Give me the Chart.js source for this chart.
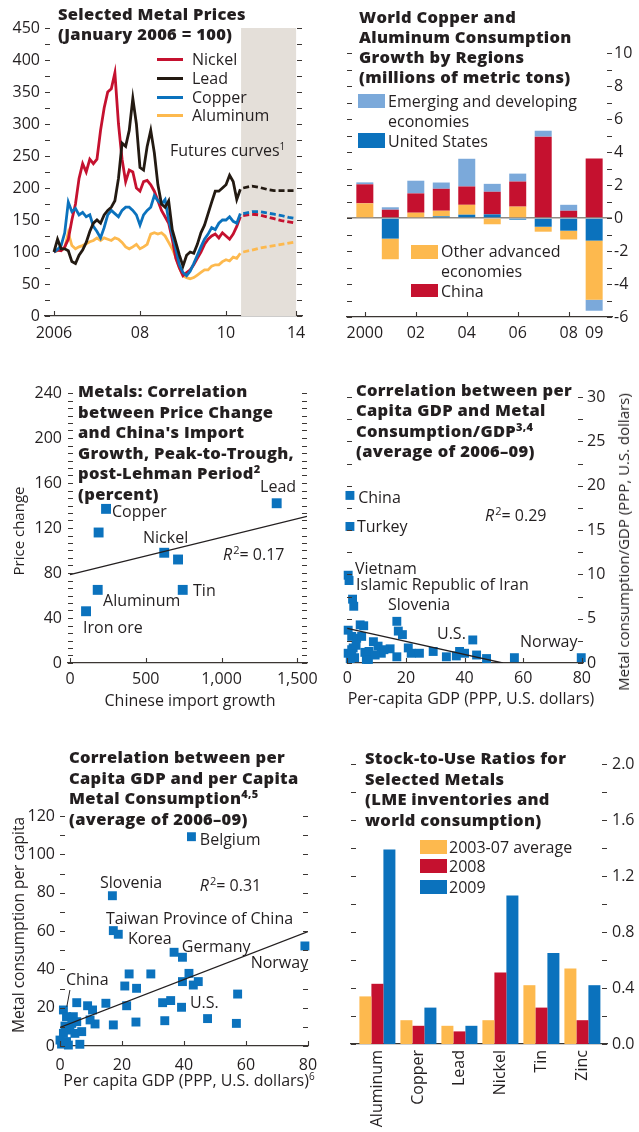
<!DOCTYPE html>
<html>
<head>
<meta charset="utf-8">
<script src="https://cdn.jsdelivr.net/npm/chart.js@4.4.0/dist/chart.umd.min.js"></script>
<style>
  html, body { margin: 0; padding: 0; background: #fff; }
  #page { position: relative; width: 639px; height: 1132px; overflow: hidden;
          font-family: "Open Sans", sans-serif; font-size: 16px; color: #231f20; }
  #page canvas { position: absolute; z-index: 1; }
  .t { position: absolute; z-index: 2; font-family: "Open Sans", sans-serif; font-weight: 800;
       font-size: 16.5px; line-height: 20.5px; white-space: nowrap; letter-spacing: 0.3px; }
  .t sup { font-size: 11px; line-height: 0; vertical-align: 6px; }
  .x { position: absolute; z-index: 2; white-space: nowrap; line-height: 20px; }
  .x sup { font-size: 10px; line-height: 0; vertical-align: 6px; }
  .c { transform: translate(-50%, -50%); }
  .r { transform: translate(-50%, -50%) rotate(-90deg); }
  .sw { position: absolute; z-index: 2; }
</style>
</head>
<body>
<div id="page">
  <canvas id="c1" width="320" height="340" style="left:0;top:0"></canvas>
  <canvas id="c2" width="319" height="340" style="left:320px;top:0"></canvas>
  <canvas id="c3" width="320" height="380" style="left:0;top:340px"></canvas>
  <canvas id="c4" width="319" height="380" style="left:320px;top:340px"></canvas>
  <canvas id="c5" width="320" height="392" style="left:0;top:740px"></canvas>
  <canvas id="c6" width="319" height="392" style="left:320px;top:740px"></canvas>

  <!-- titles -->
  <div class="t" style="left:58px;top:4px;line-height:19.5px">Selected Metal Prices<br>(January 2006 = 100)</div>
  <div class="t" style="left:359px;top:7px;line-height:20px">World Copper and<br>Aluminum Consumption<br>Growth by Regions<br>(millions of metric tons)</div>
  <div class="t" style="left:78px;top:381px;line-height:20.6px">Metals: Correlation<br>between Price Change<br>and China's Import<br>Growth, Peak-to-Trough,<br>post-Lehman Period<sup>2</sup><br>(percent)</div>
  <div class="t" style="left:356px;top:380px;line-height:20.3px">Correlation between per<br>Capita GDP and Metal<br>Consumption/GDP<sup>3,4</sup><br>(average of 2006–09)</div>
  <div class="t" style="left:69px;top:747px;line-height:20.5px">Correlation between per<br>Capita GDP and per Capita<br>Metal Consumption<sup>4,5</sup><br>(average of 2006–09)</div>
  <div class="t" style="left:365px;top:748px;line-height:20.7px">Stock-to-Use Ratios for<br>Selected Metals<br>(LME inventories and<br>world consumption)</div>

  <!-- panel 1 legend -->
  <div class="sw" style="left:157px;top:58px;width:26px;height:3px;background:#c5112f"></div>
  <div class="x" style="left:192px;top:49px">Nickel</div>
  <div class="sw" style="left:157px;top:77px;width:26px;height:3px;background:#231a12"></div>
  <div class="x" style="left:192px;top:68px">Lead</div>
  <div class="sw" style="left:157px;top:96px;width:26px;height:3px;background:#0b72bd"></div>
  <div class="x" style="left:192px;top:87px">Copper</div>
  <div class="sw" style="left:157px;top:114px;width:26px;height:3px;background:#fdb94e"></div>
  <div class="x" style="left:192px;top:105px">Aluminum</div>
  <div class="x" style="left:170px;top:140px">Futures curves<sup>1</sup></div>

  <!-- panel 2 legend -->
  <div class="sw" style="left:358px;top:94px;width:27px;height:14px;background:#7ba9da"></div>
  <div class="x" style="left:388px;top:91px">Emerging and developing<br>economies</div>
  <div class="sw" style="left:358px;top:133px;width:27px;height:15px;background:#0b72bd"></div>
  <div class="x" style="left:388px;top:131px">United States</div>
  <div class="sw" style="left:411px;top:245px;width:27px;height:14px;background:#fdb94e"></div>
  <div class="x" style="left:441px;top:241px">Other advanced<br>economies</div>
  <div class="sw" style="left:411px;top:284px;width:27px;height:13px;background:#c5112f"></div>
  <div class="x" style="left:441px;top:281px">China</div>

  <!-- panel 6 legend -->
  <div class="sw" style="left:420px;top:840px;width:27px;height:14px;background:#fdb94e"></div>
  <div class="x" style="left:449px;top:837px">2003-07 average</div>
  <div class="sw" style="left:420px;top:859px;width:27px;height:14px;background:#c5112f"></div>
  <div class="x" style="left:449px;top:856px">2008</div>
  <div class="sw" style="left:420px;top:880px;width:27px;height:14px;background:#0b72bd"></div>
  <div class="x" style="left:449px;top:877px">2009</div>

  <!-- axis titles -->
  <div class="x r" style="left:18px;top:531px;font-size:15px">Price change</div>
  <div class="x c" style="left:190px;top:700px">Chinese import growth</div>
  <div class="x c" style="left:471px;top:698px">Per-capita GDP (PPP, U.S. dollars)</div>
  <div class="x r" style="left:623px;top:542px;font-size:15px">Metal consumption/GDP (PPP, U.S. dollars)</div>
  <div class="x r" style="left:18px;top:925px;font-size:15.5px">Metal consumption per capita</div>
  <div class="x c" style="left:189px;top:1080px">Per capita GDP (PPP, U.S. dollars)<sup>6</sup></div>
</div>

<script>
// ---------------- data ----------------

// Selected metal prices, monthly Jan 2006 .. May 2010 (January 2006 = 100)
const nickelPrice = [100, 103, 102, 108, 120, 150, 175, 215, 238, 225,
  245, 238, 245, 290, 325, 350, 355, 380, 300, 245,
  210, 228, 225, 200, 195, 210, 212, 205, 195, 180,
  165, 155, 145, 120, 90, 75, 63, 68, 72, 80,
  90, 100, 112, 120, 125, 128, 122, 130, 125, 120,
  128, 140, 155];
const leadPrice = [100, 120, 105, 105, 102, 85, 82, 95, 103, 115,
  132, 145, 150, 145, 158, 165, 170, 180, 215, 270,
  265, 290, 340, 300, 232, 228, 265, 290, 255, 205,
  175, 170, 180, 135, 115, 95, 78, 95, 100, 98,
  112, 130, 142, 160, 178, 195, 195, 200, 205, 220,
  210, 182, 198];
const copperPrice = [100, 104, 110, 130, 178, 163, 168, 158, 162, 155,
  158, 140, 132, 122, 138, 158, 165, 160, 155, 165,
  170, 170, 165, 158, 142, 158, 165, 170, 188, 180,
  175, 182, 150, 128, 105, 80, 68, 63, 70, 82,
  95, 108, 120, 128, 138, 135, 145, 150, 150, 155,
  148, 145, 160];
const aluminumPrice = [100, 102, 103, 106, 130, 110, 105, 108, 110, 113,
  116, 118, 122, 118, 122, 120, 118, 122, 120, 115,
  108, 105, 108, 112, 105, 108, 112, 128, 130, 128,
  130, 125, 115, 105, 92, 75, 63, 60, 58, 60,
  64, 68, 72, 72, 78, 80, 80, 85, 88, 86,
  92, 90, 98];
const futureYears = [2010.4, 2011, 2011.5, 2012, 2012.5, 2013, 2013.5, 2014];
const nickelFutures = [157, 159, 158, 155, 152, 149, 147, 145];
const leadFutures = [200, 203, 201, 198, 196, 196, 196, 196];
const copperFutures = [160, 163, 163, 161, 159, 157, 154, 152];
const aluminumFutures = [100, 103, 106, 108, 110, 112, 114, 116];
const priceTickYears = [2006, 2008, 2010, 2014];
const priceTickLabels = ['2006', '08', '10', '14'];

// Copper and aluminum consumption growth (millions of metric tons)
const consYears = ['2000', '01', '02', '03', '04', '05', '06', '07', '08', '09'];
const consShownYears = ['2000', '02', '04', '06', '08', '09'];
const consUS = [0, -1.25, 0, 0.1, 0.2, 0.22, -0.1, -0.53, -0.77, -1.37];
const consOtherAdv = [0.89, -1.25, 0.32, 0.34, 0.6, -0.38, 0.69, -0.3, -0.53, -3.58];
const consChina = [1.15, 0.5, 1.17, 1.33, 1.11, 1.37, 1.52, 4.93, 0.44, 3.6];
const consEmerging = [0.12, 0.15, 0.77, 0.38, 1.68, 0.48, 0.48, 0.36, 0.36, -0.67];

// Price change vs Chinese import growth (percent)
const corrImportGrowth = [238, 189, 1364, 622, 713, 744, 183, 106];
const corrPriceChange = [137, 116, 142, 98, 92, 65, 65, 46];
const corrTrendX = [0, 1564];
const corrTrendY = [78.5, 130.4];

// Per capita GDP vs metal consumption / GDP
const gdpA = [0.9, 0.9, 0.3, 0.6, 1.8, 2.2, 0.3, 1.5, 3.2, 4.4, 5.6, 4.9, 0.3, 2.0, 2.5, 1.5,
  6.0, 6.5, 7.2, 8.9, 10.5, 7.4, 11.6, 14.6, 16.9, 17.4, 18.8, 16.9, 20.8, 21.8,
  24.6, 29.3, 33.8, 37.2, 38.3, 40.0, 42.8, 44.1, 47.5, 57.0, 79.8, 3.0, 1.0, 9.5, 12.5];
const metalPerGdp = [18.9, 15.4, 9.9, 9.3, 7.2, 6.4, 3.7, 3.0, 2.8, 4.3, 4.2, 3.0, 1.1, 1.7, 0.6, 1.5,
  1.2, 0.4, 0.4, 2.4, 1.9, 1.3, 1.1, 1.6, 4.7, 3.6, 3.2, 0.7, 1.7, 1.1,
  1.1, 1.3, 0.7, 0.8, 1.3, 1.1, 2.6, 0.9, 0.5, 0.6, 0.6, 2.0, 0.5, 0.9, 1.5];
const gdpATrendX = [0, 53];
const gdpATrendY = [3.9, 0];

// Per capita GDP vs per capita metal consumption
const gdpB = [42.4, 16.9, 17.2, 18.8, 36.8, 39.5, 79.0, 22.3, 29.3, 20.9, 24.7, 41.6, 39.5, 43.0,
  44.6, 57.3, 5.4, 8.9, 10.5, 14.8, 21.5, 33.1, 35.7, 39.2, 33.8, 24.5, 17.2, 47.6,
  56.9, 11.3, 9.7, 7.0, 6.4, 1.1, 2.1, 4.3, 3.8, 1.6, 5.4, 3.2, 1.1, 0.0, 2.1, 2.7, 4.8, 0.5];
const metalPerCapita = [109.2, 78.4, 60.2, 58.3, 48.9, 46.3, 52.2, 37.6, 37.6, 31.3, 30.1, 37.9, 33.6, 31.8,
  33.6, 27.1, 22.6, 21.0, 18.8, 22.3, 21.0, 22.6, 23.7, 20.2, 13.2, 12.5, 11.0, 14.3,
  11.8, 11.5, 13.6, 7.5, 0.9, 18.8, 15.3, 15.3, 11.8, 10.4, 12.7, 8.3, 6.6, 3.1, 2.3, 0.5, 6.6, 1.0];
const gdpBTrendX = [0, 80];
const gdpBTrendY = [9.7, 59.7];

// Stock-to-use ratios
const stockMetals = ['Aluminum', 'Copper', 'Lead', 'Nickel', 'Tin', 'Zinc'];
const stockAvg0307 = [0.34, 0.17, 0.13, 0.17, 0.42, 0.54];
const stock2008 = [0.43, 0.13, 0.09, 0.51, 0.26, 0.17];
const stock2009 = [1.39, 0.26, 0.13, 1.06, 0.65, 0.42];

// point labels (data units)
const corrNotes = [
  { text: 'Copper', x: 277, y: 134 },
  { text: 'Lead', x: 1492, y: 156, align: 'right' },
  { text: 'Nickel', x: 482, y: 110.5 },
  { text: 'Tin', x: 812, y: 64 },
  { text: 'Aluminum', x: 218, y: 54.5 },
  { text: 'Iron ore', x: 86, y: 30.5 },
  { r2: '0.17', x: 1010, y: 95.4 },
];
const gdpANotes = [
  { text: 'China', x: 3.7, y: 18.6 },
  { text: 'Turkey', x: 3.3, y: 15.3 },
  { text: 'Vietnam', x: 2.6, y: 10.6 },
  { text: 'Islamic Republic of Iran', x: 3.0, y: 8.8 },
  { text: 'Slovenia', x: 13.9, y: 6.45 },
  { text: 'U.S.', x: 30.6, y: 3.2 },
  { text: 'Norway', x: 58.9, y: 2.3 },
  { r2: '0.29', x: 47, y: 16.5 },
];
const gdpBNotes = [
  { text: 'Belgium', x: 45.1, y: 107.5 },
  { text: 'Slovenia', x: 12.9, y: 85 },
  { r2: '0.31', x: 45.1, y: 83 },
  { text: 'Taiwan Province of China', x: 14.8, y: 66.2 },
  { text: 'Korea', x: 21.9, y: 55.8 },
  { text: 'Germany', x: 39.3, y: 51.6 },
  { text: 'Norway', x: 61.5, y: 43.3 },
  { text: 'China', x: 1.9, y: 34.4, lead: [3.2, 29.2, 2.2, 20.5] },
  { text: 'U.S.', x: 41.9, y: 22.4 },
];

// ---------------- styles ----------------
const INK = '#231f20';
const AXIS = '#3b3633';
const RED = '#c5112f', BLACK = '#231a12', BLUE = '#0b72bd', GOLD = '#fdb94e', LTBLUE = '#7ba9da';
const SHADE = '#e4dfd9', ZERO = '#8f8982';
const tickFont = { family: "'Open Sans', sans-serif", size: 16 };
const NOTE_FONT = "16px 'Open Sans'";

// the futures part of the price chart is squeezed on the time axis
const BREAK_YEAR = 2010.4;
function yearToX(y) {
  if (y <= BREAK_YEAR) return (y - 2006) * 12;
  return (BREAK_YEAR - 2006) * 12 + (y - BREAK_YEAR) * 4.1;
}

// ---------------- helpers ----------------
function sizeTo(n) {
  return s => {
    if (s.isHorizontal()) s.height = n; else s.width = n;
    s.paddingLeft = s.paddingRight = s.paddingTop = s.paddingBottom = 0;
  };
}
function stepTicks(min, max, step) {
  return s => {
    const n = Math.round((max - min) / step);
    s.ticks = [];
    for (let k = 0; k <= n; k++) s.ticks.push({ value: +(min + k * step).toFixed(6) });
  };
}
function listTicks(values) {
  return s => { s.ticks = values.map(v => ({ value: v })); };
}
function majorOnly(every, fmt) {
  return v => {
    const r = v / every;
    if (Math.abs(r - Math.round(r)) > 1e-6) return '';
    return fmt ? fmt(v) : v.toLocaleString('en-US');
  };
}
function noGrid() { return { display: false, drawTicks: false }; }
function pts(xs, ys) { return xs.map((x, i) => ({ x, y: ys[i] })); }

function baseOptions(padding, scales, plugins) {
  return {
    responsive: false, animation: false, events: [],
    layout: { padding },
    scales,
    plugins: Object.assign({ legend: { display: false }, tooltip: { enabled: false } }, plugins),
  };
}

// short tick marks pointing into the plot, on any side
const innerTicks = {
  id: 'innerTicks',
  afterDraw(chart, args, o) {
    const { ctx, chartArea: a } = chart;
    const len = o.len || 5;
    ctx.save();
    ctx.strokeStyle = AXIS;
    ctx.lineWidth = 1.1;
    ctx.beginPath();
    const ys = chart.scales.y;
    if (o.left || o.right) {
      ys.ticks.forEach(t => {
        const p = Math.round(ys.getPixelForValue(t.value)) + 0.5;
        if (o.left) { ctx.moveTo(a.left, p); ctx.lineTo(a.left + len, p); }
        if (o.right) { ctx.moveTo(a.right - len, p); ctx.lineTo(a.right, p); }
      });
    }
    if (o.bottom) {
      const xs = chart.scales.x;
      xs.ticks.forEach(t => {
        if (o.skip && o.skip.includes(t.value)) return;
        const p = Math.round(xs.getPixelForValue(t.value)) + 0.5;
        ctx.moveTo(p, a.bottom); ctx.lineTo(p, a.bottom - len);
      });
    }
    ctx.stroke();
    ctx.restore();
  }
};

// grey band behind the futures curves
const shadeBand = {
  id: 'shadeBand',
  beforeDatasetsDraw(chart, args, o) {
    const { ctx, chartArea: a, scales: { x } } = chart;
    const x0 = x.getPixelForValue(o.from), x1 = x.getPixelForValue(o.to);
    ctx.save();
    ctx.fillStyle = SHADE;
    ctx.fillRect(x0, a.top, x1 - x0, a.bottom - a.top);
    ctx.restore();
  }
};

function drawR2(ctx, px, py, val) {
  ctx.textAlign = 'left';
  ctx.font = "italic 16px 'Open Sans'";
  ctx.fillText('R', px, py);
  let w = ctx.measureText('R').width + 1;
  ctx.font = "11px 'Open Sans'";
  ctx.fillText('2', px + w, py - 5);
  w += ctx.measureText('2').width;
  ctx.font = NOTE_FONT;
  ctx.fillText('= ' + val, px + w, py);
}

// labels next to scatter points
const notes = {
  id: 'notes',
  afterDatasetsDraw(chart, args, o) {
    const { ctx, scales: { x, y } } = chart;
    ctx.save();
    ctx.fillStyle = INK;
    ctx.strokeStyle = INK;
    ctx.lineWidth = 1;
    ctx.textBaseline = 'middle';
    (o.items || []).forEach(n => {
      const px = x.getPixelForValue(n.x), py = y.getPixelForValue(n.y);
      if (n.r2) { drawR2(ctx, px, py, n.r2); return; }
      ctx.font = NOTE_FONT;
      ctx.textAlign = n.align || 'left';
      ctx.fillText(n.text, px, py);
      if (n.lead) {
        ctx.beginPath();
        ctx.moveTo(x.getPixelForValue(n.lead[0]), y.getPixelForValue(n.lead[1]));
        ctx.lineTo(x.getPixelForValue(n.lead[2]), y.getPixelForValue(n.lead[3]));
        ctx.stroke();
      }
    });
    ctx.restore();
  }
};

function ctx2d(id) { return document.getElementById(id).getContext('2d'); }

// ---------------- 1: selected metal prices ----------------
function priceLine(data, color) {
  return { data: data.map((v, i) => ({ x: i, y: v })), borderColor: color, borderWidth: 2.8,
           pointRadius: 0, tension: 0, fill: false };
}
function futuresLine(data, color) {
  return { data: futureYears.map((yr, i) => ({ x: yearToX(yr), y: data[i] })), borderColor: color,
           borderWidth: 2.8, borderDash: [6, 3], pointRadius: 0, tension: 0, fill: false };
}
new Chart(ctx2d('c1'), {
  type: 'line',
  data: { datasets: [
    priceLine(leadPrice, BLACK), priceLine(copperPrice, BLUE),
    priceLine(nickelPrice, RED), priceLine(aluminumPrice, GOLD),
    futuresLine(leadFutures, BLACK), futuresLine(copperFutures, BLUE),
    futuresLine(nickelFutures, RED), futuresLine(aluminumFutures, GOLD),
  ] },
  options: baseOptions({ top: 28, right: 18, left: 0, bottom: 0 }, {
    x: { type: 'linear', min: -2.5, max: 69.2, afterBuildTicks: listTicks(priceTickYears.map(yearToX)),
         afterFit: sizeTo(24), grid: noGrid(), border: { color: AXIS, width: 1.2 },
         ticks: { font: tickFont, color: INK, padding: 8, autoSkip: false, maxRotation: 0,
                  callback: (v, i) => priceTickLabels[i] } },
    y: { min: 0, max: 450, afterBuildTicks: stepTicks(0, 450, 25), afterFit: sizeTo(45),
         grid: noGrid(), border: { display: false },
         ticks: { font: tickFont, color: INK, padding: 5, autoSkip: false, callback: majorOnly(50) } },
  }, {
    innerTicks: { left: true, right: true, bottom: true },
    shadeBand: { from: yearToX(2010.35), to: yearToX(2014) },
  }),
  plugins: [shadeBand, innerTicks],
});

// ---------------- 2: consumption growth by region ----------------
function consBars(vals, color) {
  return { data: vals.map((v, i) => ({ x: i, y: v })), backgroundColor: color, borderWidth: 0,
           barPercentage: 0.667, categoryPercentage: 1 };
}
new Chart(ctx2d('c2'), {
  type: 'bar',
  data: { datasets: [
    consBars(consUS, BLUE), consBars(consOtherAdv, GOLD),
    consBars(consChina, RED), consBars(consEmerging, LTBLUE),
  ] },
  options: baseOptions({ top: 53, left: 27, right: 0, bottom: 0 }, {
    x: { type: 'linear', stacked: true, offset: false, min: -0.7, max: 9.7,
         afterBuildTicks: listTicks(consShownYears.map(y => consYears.indexOf(y))),
         afterFit: sizeTo(23), grid: { display: false, drawTicks: false, offset: false },
         border: { color: AXIS, width: 1.2 },
         ticks: { font: tickFont, color: INK, padding: 7, autoSkip: false, maxRotation: 0,
                  callback: v => consYears[v] } },
    y: { position: 'right', stacked: true, min: -6, max: 10, afterBuildTicks: stepTicks(-6, 10, 1),
         afterFit: sizeTo(27),
         grid: { drawTicks: false, lineWidth: 1.5,
                 color: c => (c.tick && c.tick.value === 0 ? ZERO : 'rgba(0,0,0,0)') },
         border: { display: false },
         ticks: { font: tickFont, color: INK, padding: 2, autoSkip: false, callback: majorOnly(2) } },
  }, {
    innerTicks: { left: true, right: true, bottom: true, skip: [9] },
  }),
  plugins: [innerTicks],
});

// ---------------- 3: price change vs China import growth ----------------
function trendLine(xs, ys) {
  return { type: 'line', data: pts(xs, ys), borderColor: INK, borderWidth: 1.3, pointRadius: 0, fill: false };
}
function squares(xs, ys, r) {
  return { data: pts(xs, ys), pointStyle: 'rect', pointRadius: r, backgroundColor: BLUE,
           borderWidth: 0, clip: false };
}
new Chart(ctx2d('c3'), {
  type: 'scatter',
  data: { datasets: [trendLine(corrTrendX, corrTrendY), squares(corrImportGrowth, corrPriceChange, 7)] },
  options: baseOptions({ top: 53, right: 13, left: 0, bottom: 0 }, {
    x: { type: 'linear', min: -13, max: 1564, afterBuildTicks: listTicks([0, 500, 1000, 1500]),
         afterFit: sizeTo(57), grid: noGrid(), border: { color: AXIS, width: 1.2 },
         ticks: { font: tickFont, color: INK, padding: 7, autoSkip: false, maxRotation: 0 } },
    y: { min: 0, max: 240, afterBuildTicks: stepTicks(0, 240, 40 / 6), afterFit: sizeTo(68),
         grid: noGrid(), border: { display: false },
         ticks: { font: tickFont, color: INK, padding: 6, autoSkip: false, callback: majorOnly(40) } },
  }, {
    innerTicks: { left: true, right: true, bottom: true },
    notes: { items: corrNotes },
  }),
  plugins: [innerTicks, notes],
});

// ---------------- 4: GDP vs metal consumption / GDP ----------------
new Chart(ctx2d('c4'), {
  type: 'scatter',
  data: { datasets: [trendLine(gdpATrendX, gdpATrendY), squares(gdpA, metalPerGdp, 6.3)] },
  options: baseOptions({ top: 57, left: 27, right: 0, bottom: 0 }, {
    x: { type: 'linear', min: -0.1, max: 80.4, afterBuildTicks: listTicks([0, 20, 40, 60, 80]),
         afterFit: sizeTo(57), grid: noGrid(), border: { color: AXIS, width: 1.2 },
         ticks: { font: tickFont, color: INK, padding: 6, autoSkip: false, maxRotation: 0 } },
    y: { position: 'right', min: 0, max: 30, afterBuildTicks: stepTicks(0, 30, 2.5), afterFit: sizeTo(56),
         grid: noGrid(), border: { display: false },
         ticks: { font: tickFont, color: INK, padding: 4, autoSkip: false, callback: majorOnly(5) } },
  }, {
    innerTicks: { left: true, right: true, bottom: true },
    notes: { items: gdpANotes },
  }),
  plugins: [innerTicks, notes],
});

// ---------------- 5: GDP vs metal consumption per capita ----------------
new Chart(ctx2d('c5'), {
  type: 'scatter',
  data: { datasets: [trendLine(gdpBTrendX, gdpBTrendY), squares(gdpB, metalPerCapita, 6.3)] },
  options: baseOptions({ top: 76, right: 12, left: 0, bottom: 0 }, {
    x: { type: 'linear', min: 0, max: 80, afterBuildTicks: listTicks([0, 20, 40, 60, 80]),
         afterFit: sizeTo(86), grid: noGrid(), border: { color: AXIS, width: 1.2 },
         ticks: { font: tickFont, color: INK, padding: 10, autoSkip: false, maxRotation: 0 } },
    y: { min: 0, max: 120, afterBuildTicks: stepTicks(0, 120, 10), afterFit: sizeTo(60),
         grid: noGrid(), border: { display: false },
         ticks: { font: tickFont, color: INK, padding: 5, autoSkip: false, callback: majorOnly(20) } },
  }, {
    innerTicks: { left: true, right: true, bottom: true },
    notes: { items: gdpBNotes },
  }),
  plugins: [innerTicks, notes],
});

// ---------------- 6: stock-to-use ratios ----------------
function stockBars(vals, color) {
  return { data: vals.map((v, i) => ({ x: i, y: v })), backgroundColor: color, borderWidth: 0,
           barPercentage: 1, categoryPercentage: 0.878 };
}
new Chart(ctx2d('c6'), {
  type: 'bar',
  data: { datasets: [stockBars(stockAvg0307, GOLD), stockBars(stock2008, RED), stockBars(stock2009, BLUE)] },
  options: baseOptions({ top: 24, left: 31, right: 0, bottom: 0 }, {
    x: { type: 'linear', offset: false, min: -0.644, max: 5.6,
         afterBuildTicks: listTicks(stockMetals.map((m, i) => i)),
         afterFit: sizeTo(88), grid: { display: false, drawTicks: false, offset: false },
         border: { color: AXIS, width: 1.2 },
         ticks: { font: tickFont, color: INK, padding: 6, autoSkip: false, minRotation: 90, maxRotation: 90,
                  callback: v => stockMetals[v] } },
    y: { position: 'right', min: 0, max: 2, afterBuildTicks: stepTicks(0, 2, 0.2), afterFit: sizeTo(32),
         grid: noGrid(), border: { display: false },
         ticks: { font: tickFont, color: INK, padding: 5, autoSkip: false,
                  callback: majorOnly(0.4, v => v.toFixed(1)) } },
  }, {
    innerTicks: { left: true, right: true },
  }),
  plugins: [innerTicks],
});
</script>
</body>
</html>
